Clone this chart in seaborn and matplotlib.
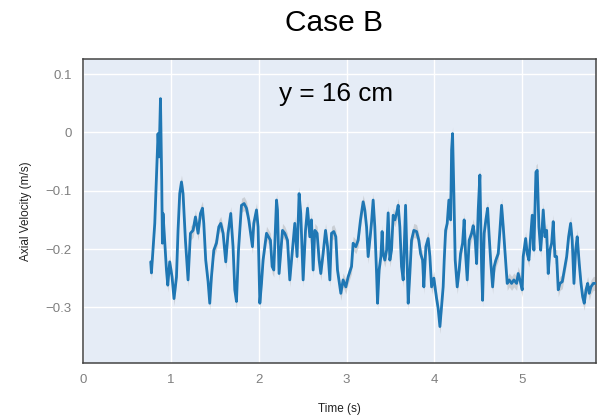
import numpy as np
import pandas as pd
import matplotlib
matplotlib.use("Agg")
import matplotlib.pyplot as plt
import seaborn as sns

# values
time_s = [
    0.771, 0.779, 0.817, 0.828, 0.854, 0.866, 0.882, 0.896, 0.904, 0.911,
    0.950, 0.965, 0.987, 1.014, 1.036, 1.064, 1.082, 1.101, 1.121, 1.139,
    1.166, 1.196, 1.223, 1.253, 1.280, 1.310, 1.337, 1.360, 1.375, 1.397,
    1.424, 1.443, 1.462, 1.489, 1.519, 1.546, 1.568, 1.595, 1.625, 1.651,
    1.682, 1.708, 1.728, 1.747, 1.770, 1.804, 1.834, 1.861, 1.887, 1.929,
    1.944, 1.975, 1.993, 2.013, 2.032, 2.050, 2.089, 2.134, 2.153, 2.172,
    2.203, 2.214, 2.232, 2.271, 2.297, 2.328, 2.354, 2.380, 2.411, 2.437,
    2.460, 2.479, 2.506, 2.533, 2.556, 2.582, 2.601, 2.620, 2.639, 2.665,
    2.688, 2.707, 2.733, 2.761, 2.784, 2.810, 2.829, 2.855, 2.878, 2.897,
    2.935, 2.961, 2.992, 3.018, 3.057, 3.075, 3.106, 3.132, 3.159, 3.189,
    3.208, 3.228, 3.246, 3.273, 3.285, 3.303, 3.322, 3.342, 3.353, 3.371,
    3.391, 3.405, 3.417, 3.436, 3.456, 3.474, 3.493, 3.512, 3.531, 3.550,
    3.569, 3.588, 3.607, 3.626, 3.645, 3.672, 3.683, 3.702, 3.721, 3.740,
    3.766, 3.797, 3.823, 3.843, 3.866, 3.880, 3.903, 3.929, 3.949, 3.968,
    3.994, 4.025, 4.043, 4.063, 4.082, 4.100, 4.112, 4.128, 4.146, 4.165,
    4.185, 4.196, 4.207, 4.222, 4.237, 4.260, 4.282, 4.298, 4.321, 4.339,
    4.355, 4.374, 4.396, 4.424, 4.442, 4.465, 4.481, 4.499, 4.518, 4.538,
    4.549, 4.567, 4.586, 4.606, 4.624, 4.643, 4.663, 4.681, 4.700, 4.727,
    4.746, 4.765, 4.784, 4.803, 4.829, 4.852, 4.879, 4.905, 4.936, 4.954,
    4.974, 5.000, 5.011, 5.039, 5.057, 5.076, 5.096, 5.114, 5.133, 5.156,
    5.171, 5.190, 5.210, 5.221, 5.239, 5.259, 5.278, 5.296, 5.315, 5.335,
    5.353, 5.372, 5.392, 5.410, 5.429, 5.456, 5.486, 5.506, 5.528, 5.551,
    5.569, 5.589, 5.608, 5.626, 5.649, 5.669, 5.688, 5.706, 5.726, 5.745,
    5.763, 5.782, 5.809, 5.828,
]
axial_velocity = [
    -0.222, -0.241, -0.156, -0.110, -0.002, -0.042, 0.058, -0.082, -0.190, -0.139,
    -0.236, -0.262, -0.222, -0.248, -0.285, -0.248, -0.168, -0.105, -0.085, -0.105,
    -0.185, -0.253, -0.173, -0.168, -0.145, -0.173, -0.139, -0.130, -0.156, -0.219,
    -0.256, -0.293, -0.248, -0.202, -0.190, -0.162, -0.156, -0.173, -0.222, -0.173,
    -0.139, -0.196, -0.270, -0.290, -0.202, -0.125, -0.122, -0.130, -0.150, -0.196,
    -0.156, -0.133, -0.162, -0.293, -0.259, -0.219, -0.173, -0.185, -0.230, -0.236,
    -0.116, -0.133, -0.242, -0.168, -0.173, -0.185, -0.253, -0.208, -0.156, -0.213,
    -0.105, -0.139, -0.253, -0.168, -0.130, -0.179, -0.150, -0.236, -0.168, -0.173,
    -0.219, -0.242, -0.208, -0.168, -0.196, -0.253, -0.173, -0.170, -0.179, -0.236,
    -0.276, -0.253, -0.265, -0.248, -0.230, -0.190, -0.196, -0.185, -0.150, -0.119,
    -0.133, -0.162, -0.213, -0.173, -0.153, -0.116, -0.162, -0.242, -0.293, -0.236,
    -0.213, -0.170, -0.208, -0.219, -0.202, -0.138, -0.219, -0.202, -0.142, -0.150,
    -0.139, -0.125, -0.162, -0.230, -0.253, -0.125, -0.185, -0.293, -0.242, -0.185,
    -0.168, -0.170, -0.185, -0.208, -0.219, -0.265, -0.196, -0.182, -0.213, -0.265,
    -0.250, -0.285, -0.302, -0.333, -0.299, -0.265, -0.219, -0.168, -0.156, -0.116,
    -0.150, -0.030, -0.002, -0.105, -0.219, -0.265, -0.236, -0.208, -0.190, -0.150,
    -0.208, -0.253, -0.185, -0.173, -0.160, -0.185, -0.225, -0.133, -0.073, -0.236,
    -0.288, -0.173, -0.150, -0.130, -0.179, -0.225, -0.265, -0.230, -0.219, -0.208,
    -0.168, -0.125, -0.162, -0.202, -0.259, -0.253, -0.259, -0.253, -0.259, -0.242,
    -0.253, -0.270, -0.213, -0.182, -0.208, -0.219, -0.179, -0.142, -0.202, -0.068,
    -0.065, -0.162, -0.202, -0.179, -0.133, -0.179, -0.168, -0.242, -0.202, -0.190,
    -0.153, -0.213, -0.213, -0.270, -0.259, -0.256, -0.230, -0.213, -0.179, -0.156,
    -0.185, -0.259, -0.202, -0.179, -0.225, -0.259, -0.282, -0.293, -0.270, -0.259,
    -0.276, -0.265, -0.259, -0.259,
]
band_half_width = 0.012

x_ticks = [0, 1, 2, 3, 4, 5]
y_ticks = [0.1, 0, -0.1, -0.2, -0.3]
y_tick_labels = ["0.1", "0", "\u22120.1", "\u22120.2", "\u22120.3"]

df = pd.DataFrame({"time": time_s, "velocity": axial_velocity})

sns.set_style("white")
plt.rcParams["font.family"] = ["Liberation Sans", "DejaVu Sans"]

fig = plt.figure(figsize=(6.01, 4.19), dpi=100)
ax = fig.add_axes([0.1381, 0.1337, 0.8536, 0.7255])
ax.set_facecolor("#E5ECF6")

ax.fill_between(df["time"], df["velocity"] - band_half_width,
                df["velocity"] + band_half_width,
                color="#9a9a9a", alpha=0.35, linewidth=0, zorder=2)
sns.lineplot(data=df, x="time", y="velocity", ax=ax, color="#1f77b4",
             linewidth=2.0, zorder=3)

ax.set_xlim(0, 5.84)
ax.set_ylim(-0.3955, 0.126)
ax.set_xticks(x_ticks)
ax.set_xticklabels([str(t) for t in x_ticks])
ax.set_yticks(y_ticks)
ax.set_yticklabels(y_tick_labels)
ax.grid(True, color="white", linewidth=1.0, zorder=1)
ax.set_axisbelow(True)

for s in ax.spines.values():
    s.set_visible(True)
    s.set_color("#444444")
    s.set_linewidth(1.1)
ax.tick_params(axis="both", direction="out", length=5, width=1,
               color="#444444", labelcolor="#7f7f7f", labelsize=9.5, pad=3)

ax.set_xlabel("Time (s)", fontsize=8.5, color="#222222", labelpad=12)
ax.set_ylabel("Axial Velocity (m/s)", fontsize=8.5, color="#222222", labelpad=10)

fig.text(0.555, 0.945, "Case B", ha="center", va="center", fontsize=21.5, color="black")
ax.text(2.88, 0.066, "y = 16 cm", ha="center", va="center", fontsize=18.8, color="black")

fig.savefig("out.png", dpi=100)
